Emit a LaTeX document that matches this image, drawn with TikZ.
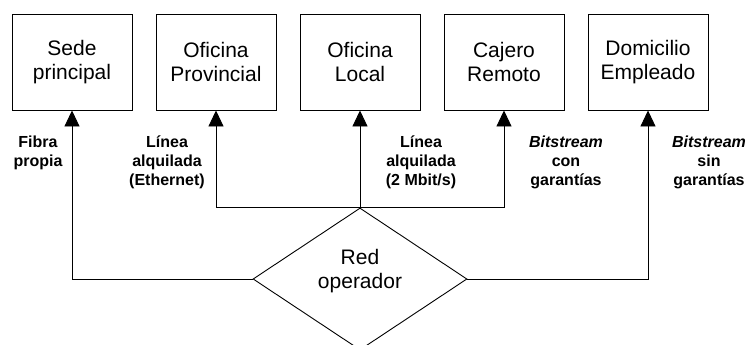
\documentclass[tikz,border=0pt]{standalone}
\usepackage{fontspec}
\setmainfont{Liberation Sans}
\usetikzlibrary{arrows.meta,shapes.geometric}
\tikzset{
  site/.style={draw, line width=0.9pt, minimum width=120pt, minimum height=96pt,
    inner sep=0pt, align=center, font=\fontsize{21}{23.5}\selectfont},
  net/.style={draw, diamond, line width=0.9pt, minimum width=214pt,
    minimum height=142pt, inner sep=0pt},
  nettext/.style={align=center, font=\fontsize{21}{23.5}\selectfont},
  linklabel/.style={anchor=base, align=center, inner sep=0pt,
    font=\bfseries\fontsize{16}{19}\selectfont},
  conn/.style={line width=0.9pt, -{Triangle[length=16pt,width=15pt]}}
}
\begin{document}
\begin{tikzpicture}[x=1pt,y=-1pt]
  \useasboundingbox (0,0) rectangle (747,345);
  \clip (0,0) rectangle (747,345);

  % sites
  \node[site] (sede) at (72,62)  {Sede\\principal};
  \node[site] (prov) at (216,62) {Oficina\\Provincial};
  \node[site] (loc)  at (360,62) {Oficina\\Local};
  \node[site] (caj)  at (504,62) {Cajero\\Remoto};
  \node[site] (dom)  at (648,62) {Domicilio\\Empleado};

  % operator network
  \node[net] (red) at (360,279) {};
  \node[nettext] (redtxt) at (360,271) {Red\\operador};

  % access links
  \draw[conn] (red.west)  -| (sede.south);
  \draw[conn] (red.north) -| (prov.south);
  \draw[conn] (red.north) -- (loc.south);
  \draw[conn] (red.north) -| (caj.south);
  \draw[conn] (red.east)  -| (dom.south);

  % link labels (anchored at the baseline of their last line)
  \node[linklabel] (l1) at (38,166)  {Fibra\\propia};
  \node[linklabel] (l2) at (167,185) {Línea\\alquilada\\(Ethernet)};
  \node[linklabel] (l3) at (421,185) {Línea\\alquilada\\(2 Mbit/s)};
  \node[linklabel] (l4) at (566,185) {\textit{Bitstream}\\con\\garantías};
  \node[linklabel] (l5) at (709,185) {\textit{Bitstream}\\sin\\garantías};
\end{tikzpicture}
\end{document}
